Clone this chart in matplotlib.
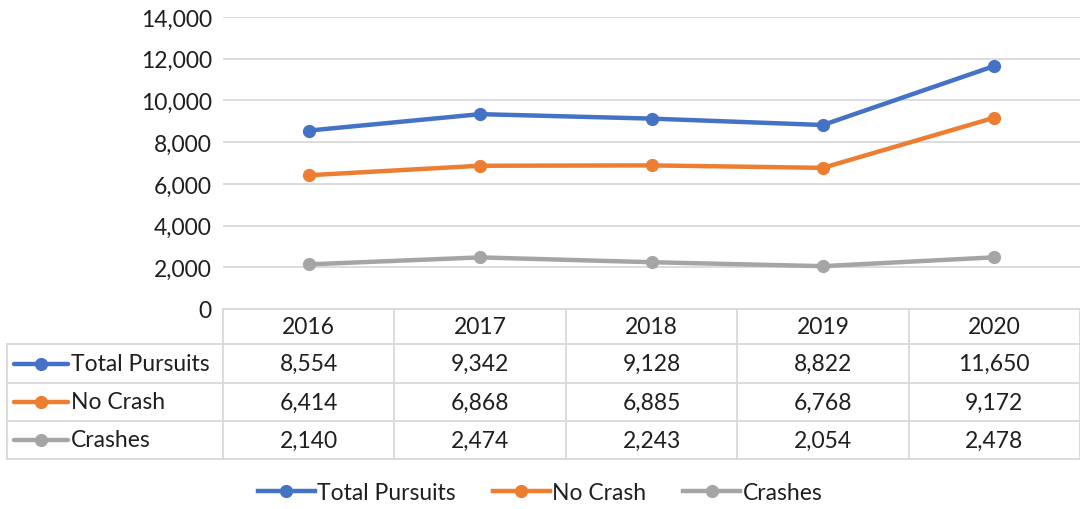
import matplotlib
matplotlib.use("Agg")
import matplotlib.pyplot as plt
from matplotlib.lines import Line2D

years = ["2016", "2017", "2018", "2019", "2020"]
series_names = ["Total Pursuits", "No Crash", "Crashes"]
total_pursuits = [8554, 9342, 9128, 8822, 11650]
no_crash = [6414, 6868, 6885, 6768, 9172]
crashes = [2140, 2474, 2243, 2054, 2478]
yticks = [0, 2000, 4000, 6000, 8000, 10000, 12000, 14000]

colors = ["#4472C4", "#ED7D31", "#A5A5A5"]
series = [total_pursuits, no_crash, crashes]

plt.rcParams['font.family'] = ['Lato', 'DejaVu Sans']
FS = 16.5
LW = 3.2
MS = 8.5
TXT = "#1F1F1F"
W, H = 1080, 510
fig = plt.figure(figsize=(W / 100, H / 100), dpi=100)

# plot area in pixels
x0, x1 = 223, 1080
y_top, y_bot = 18, 310
ax = fig.add_axes([x0 / W, 1 - y_bot / H, (x1 - x0) / W, (y_bot - y_top) / H])
n = len(years)
for vals, c in zip(series, colors):
    ax.plot(range(n), vals, color=c, lw=LW, marker='o', ms=MS, solid_capstyle='round', zorder=3)
ax.set_xlim(-0.5, n - 0.5)
ax.set_ylim(0, 14000)
ax.set_yticks(yticks)
ax.set_yticklabels([f"{v:,}" for v in yticks], fontsize=FS, color=TXT)
ax.tick_params(axis='y', length=0, pad=8)
ax.set_xticks([])
ax.grid(axis='y', color="#D9D9D9", lw=1.3)
ax.set_axisbelow(True)
for s in ax.spines.values():
    s.set_visible(False)

# table overlay in pixel coordinates
tab = fig.add_axes([0, 0, 1, 1])
tab.set_xlim(0, W)
tab.set_ylim(H, 0)
tab.axis('off')
gc = "#D9D9D9"
lw = 1.3
tx0 = 7
row_y = [310, 345, 384, 422, 460]
cw = (x1 - x0) / n
col_x = [x0 + i * cw for i in range(n + 1)]
# horizontal lines
tab.plot([x0, x1], [row_y[0], row_y[0]], color=gc, lw=lw)
for yy in row_y[1:]:
    tab.plot([tx0, x1], [yy, yy], color=gc, lw=lw)
# vertical lines
tab.plot([tx0, tx0], [row_y[1], row_y[-1]], color=gc, lw=lw)
for xx in col_x:
    tab.plot([xx, xx], [row_y[0], row_y[-1]], color=gc, lw=lw)
# header
for i, yr in enumerate(years):
    tab.text(x0 + (i + 0.5) * cw, (row_y[0] + row_y[1]) / 2, yr, ha='center', va='center',
             fontsize=FS, color=TXT)
# rows
for r, (name, vals, c) in enumerate(zip(series_names, series, colors)):
    yc = (row_y[r + 1] + row_y[r + 2]) / 2
    tab.add_line(Line2D([14, 68], [yc, yc], color=c, lw=LW, solid_capstyle='round'))
    tab.plot([41], [yc], marker='o', ms=MS, color=c)
    tab.text(71, yc, name, ha='left', va='center', fontsize=FS, color=TXT)
    for i, v in enumerate(vals):
        tab.text(x0 + (i + 0.5) * cw, yc, f"{v:,}", ha='center', va='center',
                 fontsize=FS, color=TXT)

# bottom legend
handles = [Line2D([], [], color=c, lw=LW, marker='o', ms=MS) for c in colors]
fig.legend(handles, series_names, loc='center', bbox_to_anchor=(540 / W, 1 - 494 / H),
           ncol=3, frameon=False, fontsize=FS, handlelength=2.5, handletextpad=0.1,
           columnspacing=1.6, labelcolor=TXT)

fig.savefig("out.png", dpi=100)
